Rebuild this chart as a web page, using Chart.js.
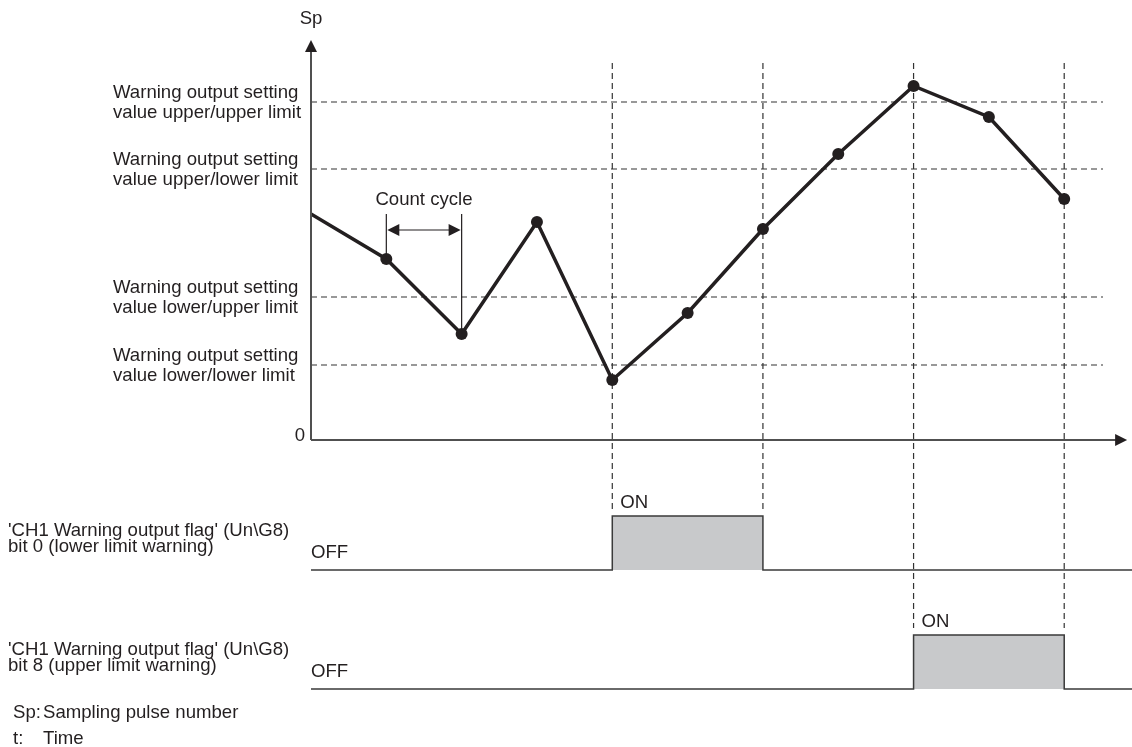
<!DOCTYPE html>
<html lang="en">
<head>
<meta charset="UTF-8">
<title>Warning output (outside range) timing</title>
<script src="https://cdn.jsdelivr.net/npm/chart.js"></script>
<style>
  html, body { margin: 0; padding: 0; background: #fff; }
  .wrap { position: relative; width: 1132px; height: 747px; }
</style>
</head>
<body>
<div class="wrap"><canvas id="chart"></canvas></div>
<script>
// sampling count (one step = one count cycle) and Sp read at each count
const counts = [0, 1, 2, 3, 4, 5, 6, 7, 8, 9, 10];
const spValues = [226, 181, 106, 218, 60, 127, 211, 286, 354, 323, 241];

// warning output setting values, top to bottom
const thresholdValues = [338, 271, 143, 75];
const thresholdLabels = [
  ['Warning output setting', 'value upper/upper limit'],
  ['Warning output setting', 'value upper/lower limit'],
  ['Warning output setting', 'value lower/upper limit'],
  ['Warning output setting', 'value lower/lower limit']
];

// flag states per count (1 = ON for the following cycle)
const bit0States = [0, 0, 0, 0, 1, 1, 0, 0, 0, 0, 0];
const bit8States = [0, 0, 0, 0, 0, 0, 0, 0, 1, 1, 0];
const signalLabels = [
  ["'CH1 Warning output flag' (Un\\G8)", 'bit 0 (lower limit warning)'],
  ["'CH1 Warning output flag' (Un\\G8)", 'bit 8 (upper limit warning)']
];

const guideCounts = [4, 6, 8, 10];
const footnotes = [['Sp:', 'Sampling pulse number'], ['t:', 'Time']];

// layout (in scale units; 1 Sp unit = 1 px here)
const X_MAX = 10.9;
const X_ARROW = 10.835;
const X_DASH_END = 10.515;
const Y_MIN = -307, Y_MAX = 440;
const Y_ARROW = 400;
const GUIDE_TOP = 377;
const BIT0_BASE = -130, BIT8_BASE = -249, PULSE_H = 54;
const INK = '#231f20';
const FONT = '18.6px "Liberation Sans", Arial, sans-serif';

function signalPoints(states, base) {
  const pts = counts.map((c, i) => ({ x: c, y: base + states[i] * PULSE_H }));
  pts.push({ x: X_MAX, y: base + states[states.length - 1] * PULSE_H });
  return pts;
}

function guideBottom(c) {
  const i = counts.indexOf(c);
  const sigs = [[bit0States, BIT0_BASE], [bit8States, BIT8_BASE]];
  for (const [s, base] of sigs) {
    if (s[i] !== s[i - 1]) return base + PULSE_H + 7;
  }
  return Y_MIN;
}

const datasets = [];
datasets.push({
  data: counts.map((c, i) => ({ x: c, y: spValues[i] })),
  borderColor: INK,
  borderWidth: 3.5,
  pointRadius: counts.map(c => (c === 0 ? 0 : 6)),
  pointBackgroundColor: INK,
  pointBorderWidth: 0,
  tension: 0
});
thresholdValues.forEach(v => {
  datasets.push({
    data: [{ x: 0, y: v }, { x: X_DASH_END, y: v }],
    borderColor: '#333',
    borderWidth: 1.2,
    borderDash: [6, 4],
    pointRadius: 0
  });
});
guideCounts.forEach(c => {
  datasets.push({
    data: [{ x: c, y: GUIDE_TOP }, { x: c, y: guideBottom(c) }],
    borderColor: '#333',
    borderWidth: 1.2,
    borderDash: [6, 4],
    pointRadius: 0
  });
});
[[bit0States, BIT0_BASE], [bit8States, BIT8_BASE]].forEach(([s, base]) => {
  datasets.push({
    data: signalPoints(s, base),
    stepped: 'before',
    borderColor: '#3a3a3a',
    borderWidth: 1.5,
    backgroundColor: '#c8c9cb',
    fill: { value: base },
    pointRadius: 0
  });
});

function arrowHead(ctx, x, y, dir) {
  ctx.beginPath();
  if (dir === 'up') {
    ctx.moveTo(x, y); ctx.lineTo(x - 6, y + 12); ctx.lineTo(x + 6, y + 12);
  } else if (dir === 'right') {
    ctx.moveTo(x, y); ctx.lineTo(x - 12, y - 6); ctx.lineTo(x - 12, y + 6);
  } else {
    ctx.moveTo(x, y); ctx.lineTo(x + 12, y - 6); ctx.lineTo(x + 12, y + 6);
  }
  ctx.closePath();
  ctx.fill();
}

const diagram = {
  id: 'diagram',
  afterDatasetsDraw(chart) {
    const ctx = chart.ctx;
    const xs = chart.scales.x, ys = chart.scales.y;
    const x0 = xs.getPixelForValue(0), y0 = ys.getPixelForValue(0);
    ctx.save();
    // axes
    ctx.strokeStyle = '#505050';
    ctx.fillStyle = INK;
    ctx.lineWidth = 2;
    ctx.beginPath();
    ctx.moveTo(x0, y0);
    ctx.lineTo(x0, ys.getPixelForValue(Y_ARROW) + 10);
    ctx.moveTo(x0, y0);
    ctx.lineTo(xs.getPixelForValue(X_ARROW) - 10, y0);
    ctx.stroke();
    arrowHead(ctx, x0, ys.getPixelForValue(Y_ARROW), 'up');
    arrowHead(ctx, xs.getPixelForValue(X_ARROW), y0, 'right');

    // count cycle dimension
    const xa = xs.getPixelForValue(counts[1]), xb = xs.getPixelForValue(counts[2]);
    const top = ys.getPixelForValue(226), ay = ys.getPixelForValue(210);
    ctx.strokeStyle = INK;
    ctx.lineWidth = 1.2;
    ctx.beginPath();
    ctx.moveTo(xa, top); ctx.lineTo(xa, ys.getPixelForValue(spValues[1]));
    ctx.moveTo(xb, top); ctx.lineTo(xb, ys.getPixelForValue(spValues[2]));
    ctx.moveTo(xa + 10, ay); ctx.lineTo(xb - 10, ay);
    ctx.stroke();
    arrowHead(ctx, xa + 1, ay, 'left');
    arrowHead(ctx, xb - 1, ay, 'right');
    ctx.restore();
  },
  afterDraw(chart) {
    const ctx = chart.ctx;
    const xs = chart.scales.x, ys = chart.scales.y;
    const x0 = xs.getPixelForValue(0);
    ctx.save();
    ctx.font = FONT;
    ctx.fillStyle = INK;
    ctx.textBaseline = 'alphabetic';

    ctx.textAlign = 'center';
    ctx.fillText('Sp', x0, 24);
    ctx.fillText('Count cycle', (xs.getPixelForValue(counts[1]) + xs.getPixelForValue(counts[2])) / 2, ys.getPixelForValue(235));
    ctx.textAlign = 'right';
    ctx.fillText('0', x0 - 6, ys.getPixelForValue(0) + 1);

    ctx.textAlign = 'left';
    thresholdValues.forEach((v, i) => {
      const py = ys.getPixelForValue(v);
      ctx.fillText(thresholdLabels[i][0], 113, py - 4);
      ctx.fillText(thresholdLabels[i][1], 113, py + 16);
    });

    [[bit0States, BIT0_BASE], [bit8States, BIT8_BASE]].forEach(([s, base], i) => {
      const py = ys.getPixelForValue(base);
      ctx.fillText(signalLabels[i][0], 8, py - 34);
      ctx.fillText(signalLabels[i][1], 8, py - 18);
      ctx.fillText('OFF', x0, py - 12);
      const on = s.indexOf(1);
      ctx.fillText('ON', xs.getPixelForValue(counts[on]) + 8, ys.getPixelForValue(base + PULSE_H) - 8);
    });

    ctx.fillText(footnotes[0][0], 13, 718);
    ctx.fillText(footnotes[0][1], 43, 718);
    ctx.fillText(footnotes[1][0], 13, 744);
    ctx.fillText(footnotes[1][1], 43, 744);
    ctx.restore();
  }
};

new Chart(document.getElementById('chart'), {
  type: 'line',
  data: { datasets },
  options: {
    responsive: true,
    maintainAspectRatio: false,
    animation: false,
    layout: { autoPadding: false, padding: { left: 311, right: 0, top: 0, bottom: 0 } },
    plugins: { legend: { display: false }, tooltip: { enabled: false } },
    scales: {
      x: { type: 'linear', min: 0, max: X_MAX, display: false },
      y: { type: 'linear', min: Y_MIN, max: Y_MAX, display: false }
    }
  },
  plugins: [diagram]
});
</script>
</body>
</html>
